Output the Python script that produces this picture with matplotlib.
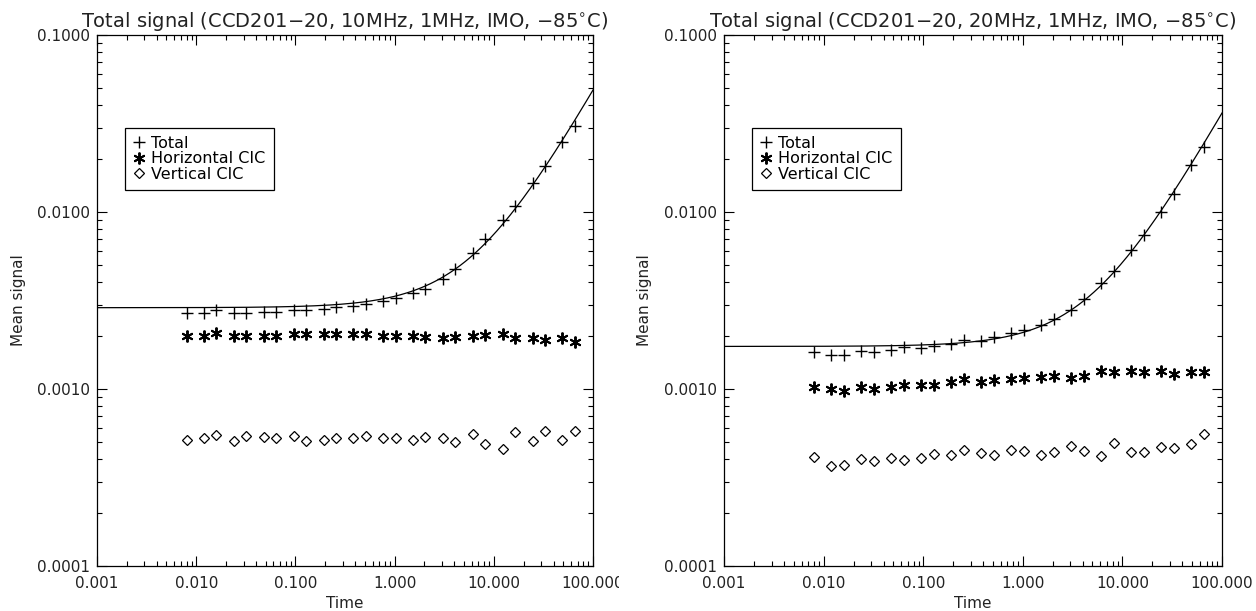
import numpy as np
import matplotlib
matplotlib.use("Agg")
import matplotlib.pyplot as plt
from matplotlib.transforms import Bbox, TransformedBbox

plt.rcParams["font.family"] = ["DejaVu Sans"]

# exposure times (same for both panels)
time = [0.008, 0.012, 0.016, 0.024, 0.032, 0.048, 0.064, 0.096, 0.128,
        0.192, 0.256, 0.384, 0.512, 0.768, 1.024, 1.536, 2.048, 3.072,
        4.096, 6.144, 8.192, 12.288, 16.384, 24.576, 32.768, 49.152, 65.536]

# 10MHz
total_10 = [0.00269, 0.00269, 0.00278, 0.00269, 0.00269, 0.00272, 0.00272,
            0.00278, 0.00281, 0.00284, 0.00291, 0.00296, 0.00304, 0.00316,
            0.00325, 0.00349, 0.00368, 0.00419, 0.00474, 0.00588, 0.00700,
            0.00901, 0.0108, 0.0145, 0.0183, 0.0247, 0.0307]
horiz_10 = [0.00200, 0.00200, 0.00207, 0.00200, 0.00200, 0.00200, 0.00199,
            0.00204, 0.00205, 0.00205, 0.00204, 0.00204, 0.00204, 0.00200,
            0.00199, 0.00199, 0.00196, 0.00193, 0.00197, 0.00199, 0.00202,
            0.00205, 0.00193, 0.00193, 0.00190, 0.00193, 0.00185]
vert_10 = [0.000512, 0.000532, 0.000549, 0.000508, 0.000540, 0.000537,
           0.000528, 0.000544, 0.000506, 0.000514, 0.000528, 0.000526,
           0.000542, 0.000526, 0.000530, 0.000517, 0.000535, 0.000526,
           0.000499, 0.000554, 0.000486, 0.000457, 0.000568, 0.000506,
           0.000581, 0.000517, 0.000576]
fit_10 = (0.00288, 0.00046)  # intercept, slope

# 20MHz
total_20 = [0.00162, 0.00156, 0.00156, 0.00165, 0.00162, 0.00167, 0.00173,
            0.00171, 0.00176, 0.00180, 0.00189, 0.00187, 0.00196, 0.00206,
            0.00215, 0.00231, 0.00250, 0.00281, 0.00321, 0.00398, 0.00466,
            0.00609, 0.00741, 0.0100, 0.0126, 0.0184, 0.0234]
horiz_20 = [0.00103, 0.00100, 0.000979, 0.00102, 0.00100, 0.00103, 0.00106,
            0.00106, 0.00106, 0.00110, 0.00114, 0.00110, 0.00113, 0.00114,
            0.00115, 0.00117, 0.00118, 0.00116, 0.00118, 0.00126, 0.00125,
            0.00126, 0.00125, 0.00126, 0.00122, 0.00124, 0.00124]
vert_20 = [0.000412, 0.000368, 0.000370, 0.000401, 0.000393, 0.000407,
           0.000395, 0.000410, 0.000428, 0.000423, 0.000450, 0.000434,
           0.000425, 0.000452, 0.000444, 0.000425, 0.000442, 0.000478,
           0.000444, 0.000419, 0.000495, 0.000438, 0.000442, 0.000472,
           0.000464, 0.000490, 0.000556]
fit_20 = (0.00174, 0.000345)

titles = ["Total signal (CCD201\u221220, 10MHz, 1MHz, IMO, \u221285$^{\\circ}$C)",
          "Total signal (CCD201\u221220, 20MHz, 1MHz, IMO, \u221285$^{\\circ}$C)"]
xticks = [0.001, 0.01, 0.1, 1, 10, 100]
xtick_labels = ["0.001", "0.010", "0.100", "1.000", "10.000", "100.000"]
yticks = [0.0001, 0.001, 0.01, 0.1]
ytick_labels = ["0.0001", "0.0010", "0.0100", "0.1000"]

fig = plt.figure(figsize=(12.56, 6.11), dpi=100)
ax1 = fig.add_axes([97 / 1256, 45 / 611, 496 / 1256, 531 / 611])
ax2 = fig.add_axes([724 / 1256, 45 / 611, 498 / 1256, 531 / 611])

panels = [
    (ax1, total_10, horiz_10, vert_10, fit_10, titles[0]),
    (ax2, total_20, horiz_20, vert_20, fit_20, titles[1]),
]

t_line = np.logspace(-3, 2, 300)

for ax, tot, hor, ver, fit, title in panels:
    ax.plot(t_line, fit[0] + fit[1] * t_line, color="black", lw=0.9)
    ax.plot(time, tot, ls="none", marker="+", ms=8, mew=1.0, color="black",
            label="Total")
    ax.plot(time, hor, ls="none", marker=(6, 2, 0), ms=8.5, mew=1.4,
            color="black", label="Horizontal CIC")
    ax.plot(time, ver, ls="none", marker="D", ms=5.6, mew=0.9, mfc="none",
            color="black", label="Vertical CIC")

    ax.set_xscale("log")
    ax.set_yscale("log")
    ax.set_xlim(0.001, 100)
    ax.set_ylim(0.0001, 0.1)
    ax.set_xticks(xticks)
    ax.set_xticklabels(xtick_labels)
    ax.set_yticks(yticks)
    ax.set_yticklabels(ytick_labels)

    ax.tick_params(which="both", direction="in", top=True, right=True,
                   width=0.8, color="black", labelsize=11, labelcolor="#222222")
    ax.tick_params(which="major", length=7.2)
    ax.tick_params(which="minor", length=3.6)
    ax.tick_params(axis="x", pad=7)
    ax.tick_params(axis="y", pad=5)
    for sp in ax.spines.values():
        sp.set_linewidth(0.9)

    ax.set_title(title, fontsize=14, pad=5.5, color="#222222")
    ax.set_xlabel("Time", fontsize=11, color="#222222", va="center")
    ax.set_ylabel("Mean signal", fontsize=11, color="#222222", va="center")
    ax.xaxis.set_label_coords(0.5, -0.0697)
    ax.yaxis.set_label_coords(-0.159, 0.5)

    leg = ax.legend(loc="upper left", bbox_to_anchor=(0.0565, 0.825),
                    borderaxespad=0, fontsize=11.5, numpoints=1,
                    handlelength=0.7, handletextpad=0.45, labelspacing=0.02,
                    borderpad=0.5, fancybox=False, framealpha=1,
                    edgecolor="black")
    leg.get_frame().set_linewidth(0.9)

# the left panel's last tick label is cut at the panel edge
clip = TransformedBbox(Bbox([[0, 0], [619 / 1256, 1]]), fig.transFigure)
for lbl in ax1.get_xticklabels():
    lbl.set_clip_box(clip)
    lbl.set_clip_on(True)

fig.savefig("out.png", dpi=100)
